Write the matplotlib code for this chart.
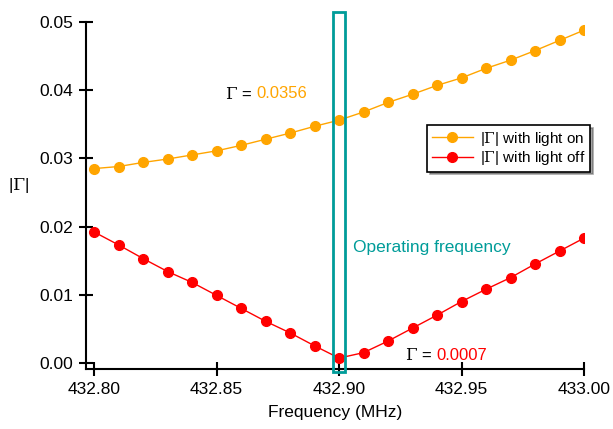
import matplotlib
matplotlib.use("Agg")
import matplotlib.pyplot as plt
from matplotlib.patches import Rectangle

plt.rcParams["font.family"] = ["Liberation Sans", "DejaVu Sans"]
plt.rcParams["mathtext.fontset"] = "dejavuserif"

# ===== data =====
freq = [432.80, 432.81, 432.82, 432.83, 432.84, 432.85, 432.86, 432.87, 432.88, 432.89,
        432.90, 432.91, 432.92, 432.93, 432.94, 432.95, 432.96, 432.97, 432.98, 432.99, 433.00]
gamma_on = [0.0285, 0.0288, 0.0294, 0.0299, 0.0305, 0.0311, 0.0319, 0.0328, 0.0337, 0.0347,
            0.0356, 0.0368, 0.0382, 0.0394, 0.0407, 0.0418, 0.0432, 0.0444, 0.0458, 0.0473, 0.0488]
gamma_off = [0.0192, 0.0173, 0.0153, 0.0134, 0.0118, 0.0099, 0.0080, 0.0061, 0.0044, 0.0025,
             0.0007, 0.0015, 0.0032, 0.0051, 0.0070, 0.0090, 0.0108, 0.0125, 0.0145, 0.0164, 0.0183]
x_ticks = [432.80, 432.85, 432.90, 432.95, 433.00]
y_ticks = [0.00, 0.01, 0.02, 0.03, 0.04, 0.05]
op_freq = 432.90

ORANGE = "#FFA500"
RED = "#FF0000"
TEAL = "#009C99"

fig = plt.figure(figsize=(6.13, 4.29), dpi=100)
ax = fig.add_axes([86 / 613, 60 / 429, (584 - 86) / 613, (369 - 22) / 429])

ax.plot(freq, gamma_on, "-o", color=ORANGE, lw=1, ms=7, label=r"|$\Gamma$| with light on")
ax.plot(freq, gamma_off, "-o", color=RED, lw=1, ms=7, label=r"|$\Gamma$| with light off")

ax.set_xlim(432.7967, 433.00)
ax.set_ylim(-0.0009, 0.0500)
ax.set_xticks(x_ticks)
ax.set_xticklabels([f"{v:.2f}" for v in x_ticks])
ax.set_yticks(y_ticks)
ax.set_yticklabels([f"{v:.2f}" for v in y_ticks])
ax.tick_params(direction="inout", length=10, width=1.5, labelsize=12.5, pad=4)

for s in ["top", "right"]:
    ax.spines[s].set_visible(False)
for s in ["left", "bottom"]:
    ax.spines[s].set_linewidth(1.5)

ax.set_xlabel("Frequency (MHz)", fontsize=12.5, labelpad=6)
ax.set_ylabel(r"|$\Gamma$|", fontsize=12.5, rotation=0, labelpad=18)
ax.yaxis.set_label_coords(-0.135, 0.5)

# operating frequency box
ax.add_patch(Rectangle((op_freq - 0.0023, -0.0013), 0.0046, 0.0528,
                       fill=False, edgecolor=TEAL, lw=2, clip_on=False, zorder=5))
ax.text(op_freq + 0.0055, 0.0169, "Operating frequency", color=TEAL, fontsize=12.5,
        va="center", ha="left")


def gamma_label(x, y, value, color):
    ax.annotate(r"$\Gamma$ =", (x, y), xytext=(-2, 0), textcoords="offset points",
                fontsize=12, ha="right", va="center")
    ax.annotate(f"{value:.4f}", (x, y), xytext=(1, 0), textcoords="offset points",
                fontsize=12, ha="left", va="center", color=color)


gamma_label(op_freq - 0.0345, gamma_on[10] + 0.0039, gamma_on[10], ORANGE)
gamma_label(op_freq + 0.039, 0.0011, gamma_off[10], RED)

leg = ax.legend(loc="upper left", bbox_to_anchor=((427 - 86) / 498, (369 - 125) / 347),
                borderaxespad=0, fontsize=11, frameon=True, fancybox=False, shadow=True,
                edgecolor="black", handlelength=2.7, borderpad=0.3,
                labelspacing=0.1, handletextpad=0.5)
leg.get_frame().set_linewidth(1.2)

fig.savefig("out.png", dpi=100)
